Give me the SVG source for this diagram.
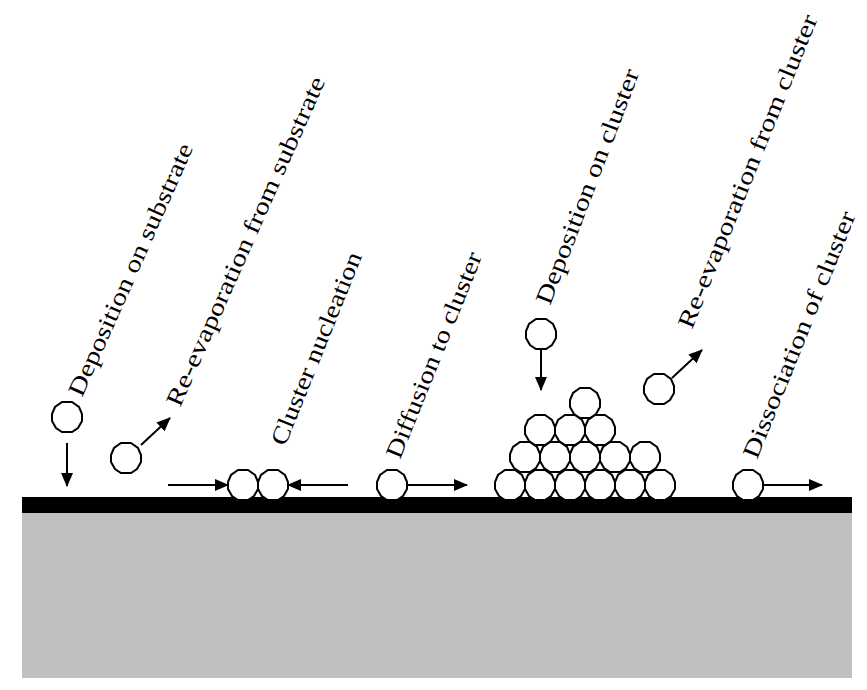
<svg xmlns="http://www.w3.org/2000/svg" width="867" height="690" viewBox="0 0 867 690">
<defs>
<marker id="ah" markerWidth="14" markerHeight="12" refX="13" refY="6" orient="auto" markerUnits="userSpaceOnUse"><path d="M0,0 L14,6 L0,12 Z" fill="#000"/></marker>
<polygon id="oct" points="5,-15 12,-10 15,-3 15,4 11,11 5,15 -5,15 -11,11 -15,4 -15,-3 -12,-10 -5,-15" fill="#fff" stroke="#000" stroke-width="2"/>
</defs>
<style>
.lbl{font-family:"Liberation Serif",serif;font-size:24px;fill:#000}
.c{stroke:#000;stroke-width:2;fill:none;marker-end:url(#ah)}
</style>
<rect width="867" height="690" fill="#fff"/>
<g id="substrate"><rect x="22" y="513" width="830" height="165" fill="#c0c0c0"/><rect x="22" y="497" width="830" height="16" fill="#000"/></g>
<g id="connectors">
<line class="c" x1="67" y1="443" x2="67" y2="486"/>
<line class="c" x1="141" y1="445" x2="170" y2="418"/>
<line class="c" x1="168" y1="485" x2="228" y2="485"/>
<line class="c" x1="348" y1="485" x2="288" y2="485"/>
<line class="c" x1="407" y1="485" x2="467" y2="485"/>
<line class="c" x1="541" y1="349" x2="541" y2="390"/>
<line class="c" x1="672" y1="378" x2="702" y2="350"/>
<line class="c" x1="763" y1="485" x2="822" y2="485"/>
</g>
<g id="n-dep-sub"><use href="#oct" x="67" y="417"/><text class="lbl" transform="translate(82,398) rotate(-66)" textLength="274" lengthAdjust="spacingAndGlyphs">Deposition on substrate</text></g>
<g id="n-reevap-sub"><use href="#oct" x="126" y="458"/><text class="lbl" transform="translate(180,408) rotate(-66)" textLength="358" lengthAdjust="spacingAndGlyphs">Re-evaporation from substrate</text></g>
<g id="n-nucleation"><use href="#oct" x="243" y="485"/><use href="#oct" x="273" y="485"/><text class="lbl" transform="translate(285,447) rotate(-68)" textLength="206" lengthAdjust="spacingAndGlyphs">Cluster nucleation</text></g>
<g id="n-diffusion"><use href="#oct" x="392" y="485"/><text class="lbl" transform="translate(400,460) rotate(-68)" textLength="220" lengthAdjust="spacingAndGlyphs">Diffusion to cluster</text></g>
<g id="n-dep-cluster"><use href="#oct" x="541" y="334"/>
<use href="#oct" x="510" y="485"/><use href="#oct" x="540" y="485"/><use href="#oct" x="570" y="485"/><use href="#oct" x="600" y="485"/><use href="#oct" x="630" y="485"/><use href="#oct" x="660" y="485"/>
<use href="#oct" x="525" y="457"/><use href="#oct" x="555" y="457"/><use href="#oct" x="585" y="457"/><use href="#oct" x="615" y="457"/><use href="#oct" x="645" y="457"/>
<use href="#oct" x="540" y="430"/><use href="#oct" x="570" y="430"/><use href="#oct" x="600" y="430"/>
<use href="#oct" x="585" y="403"/>
<text class="lbl" transform="translate(550,306) rotate(-69)" textLength="250" lengthAdjust="spacingAndGlyphs">Deposition on cluster</text></g>
<g id="n-reevap-cluster"><use href="#oct" x="659" y="389"/><text class="lbl" transform="translate(692,330) rotate(-68)" textLength="336" lengthAdjust="spacingAndGlyphs">Re-evaporation from cluster</text></g>
<g id="n-dissociation"><use href="#oct" x="748" y="485"/><text class="lbl" transform="translate(757,460) rotate(-68)" textLength="264" lengthAdjust="spacingAndGlyphs">Dissociation of cluster</text></g>
</svg>
